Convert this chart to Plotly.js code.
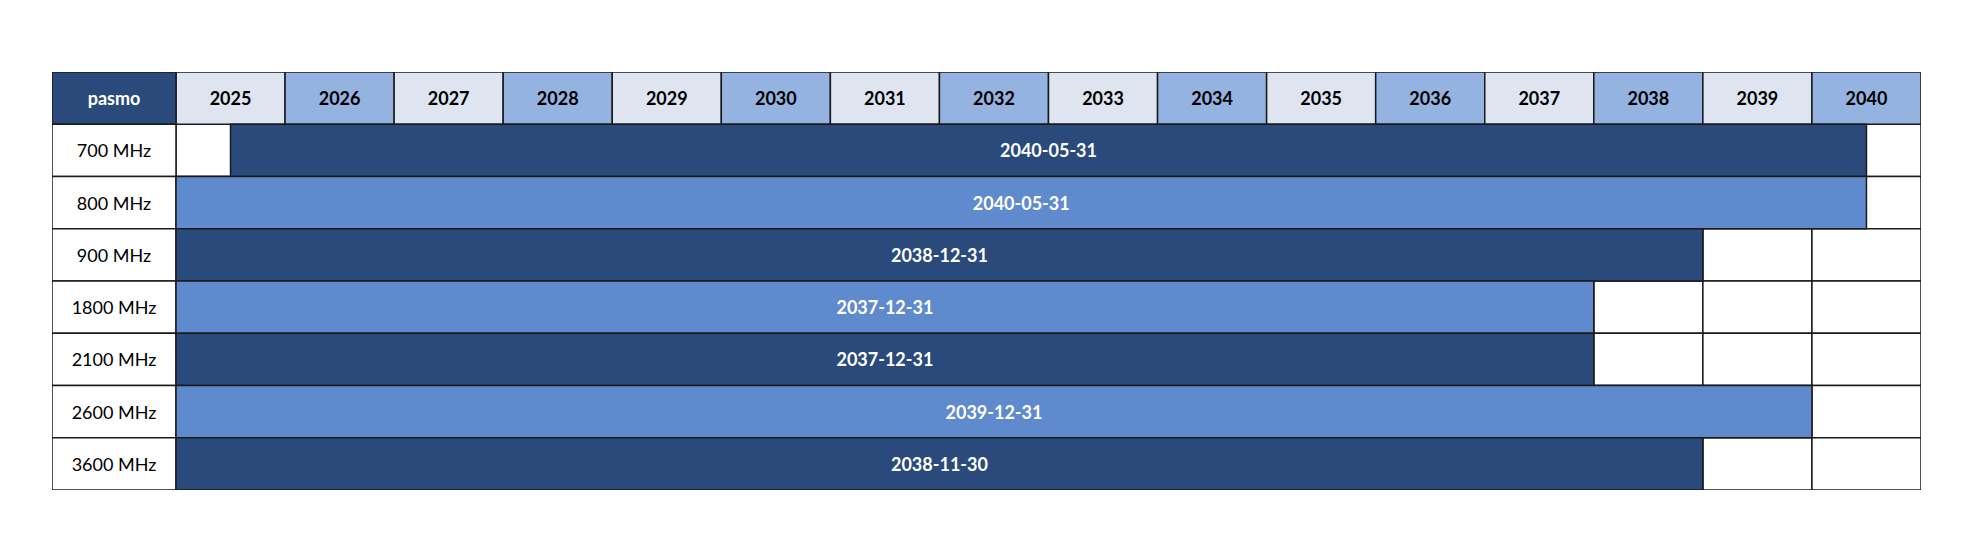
<!DOCTYPE html>
<html>
<head>
<meta charset="utf-8">
<script src="https://cdn.plot.ly/plotly-3.0.1.min.js"></script>
<style>
  html, body { margin: 0; padding: 0; background: #ffffff; }
  #chart { width: 1980px; height: 549px; }
</style>
</head>
<body>
<div id="chart"></div>
<script>
// Licence periods per frequency band
const headerLabel = 'pasmo';
const years = [2025, 2026, 2027, 2028, 2029, 2030, 2031, 2032, 2033, 2034, 2035, 2036, 2037, 2038, 2039, 2040];
const bands = ['700 MHz', '800 MHz', '900 MHz', '1800 MHz', '2100 MHz', '2600 MHz', '3600 MHz'];
const startDates = ['2025-07-01', '2025-01-01', '2025-01-01', '2025-01-01', '2025-01-01', '2025-01-01', '2025-01-01'];
const endDates = ['2040-05-31', '2040-05-31', '2038-12-31', '2037-12-31', '2037-12-31', '2039-12-31', '2038-11-30'];

// Styling
const NAVY = '#2B4A7C';
const LIGHT = '#5F8BCE';
const HEAD_A = '#DEE5F0';
const HEAD_B = '#95B3E0';
const LINE = { color: '#1a1a1a', width: 1.5 };
const FONT = 'Lato, "Open Sans", sans-serif';
const FONT_SIZE = 18;
const labelColWidth = 1.137;           // width of the band-name column, in year units
const x0 = years[0] - labelColWidth;
const xEnd = years[years.length - 1] + 1;

// Date -> fractional year, snapped to the table's half-year grid
function isLeap(y) { return (y % 4 === 0 && y % 100 !== 0) || y % 400 === 0; }
function fracYear(str, inclusiveEnd) {
  const [y, m, d] = str.split('-').map(Number);
  const t0 = Date.UTC(y, 0, 1);
  const t = Date.UTC(y, m - 1, d) + (inclusiveEnd ? 86400000 : 0);
  const days = isLeap(y) ? 366 : 365;
  const v = y + (t - t0) / 86400000 / days;
  return Math.round(v * 2) / 2;
}

const rows = bands.map((_, i) => i + 1);
const starts = startDates.map(s => fracYear(s, false));
const ends = endDates.map(s => fracYear(s, true));

const traces = [];

// Empty white grid cells behind the bars
const gy = [], gb = [];
bands.forEach((_, i) => years.forEach(yr => { gy.push(i + 1); gb.push(yr); }));
traces.push({
  type: 'bar', orientation: 'h',
  y: gy, base: gb, x: gy.map(() => 1), width: 1,
  marker: { color: '#ffffff', line: LINE },
  hoverinfo: 'skip'
});

// Header: year cells
traces.push({
  type: 'bar', orientation: 'h',
  y: years.map(() => 0), base: years, x: years.map(() => 1), width: 1,
  marker: { color: years.map((_, i) => i % 2 === 0 ? HEAD_A : HEAD_B), line: LINE },
  text: years.map(String), textposition: 'inside', insidetextanchor: 'middle', textangle: 0,
  textfont: { family: FONT, size: FONT_SIZE, color: '#000000', weight: 'bold' },
  hoverinfo: 'skip'
});

// Header: label cell
traces.push({
  type: 'bar', orientation: 'h',
  y: [0], base: [x0], x: [labelColWidth], width: 1,
  marker: { color: NAVY, line: LINE },
  text: [headerLabel], textposition: 'inside', insidetextanchor: 'middle', textangle: 0,
  textfont: { family: FONT, size: FONT_SIZE, color: '#ffffff', weight: 'bold' },
  hoverinfo: 'skip'
});

// Band name cells
traces.push({
  type: 'bar', orientation: 'h',
  y: rows, base: rows.map(() => x0), x: rows.map(() => labelColWidth), width: 1,
  marker: { color: '#ffffff', line: LINE },
  text: bands, textposition: 'inside', insidetextanchor: 'middle', textangle: 0,
  textfont: { family: FONT, size: FONT_SIZE, color: '#000000' },
  hoverinfo: 'skip'
});

// Licence bars
traces.push({
  type: 'bar', orientation: 'h',
  y: rows, base: starts, x: ends.map((e, i) => e - starts[i]), width: 1,
  marker: { color: rows.map((_, i) => i % 2 === 0 ? NAVY : LIGHT), line: LINE },
  text: endDates, textposition: 'inside', insidetextanchor: 'middle', textangle: 0,
  textfont: { family: FONT, size: FONT_SIZE, color: '#ffffff', weight: 'bold' },
  hoverinfo: 'skip'
});

const layout = {
  width: 1980, height: 549,
  margin: { l: 52, r: 59, t: 72, b: 59, pad: 0 },
  paper_bgcolor: '#ffffff', plot_bgcolor: '#ffffff',
  barmode: 'overlay',
  showlegend: false,
  xaxis: { range: [x0, xEnd], visible: false, fixedrange: true },
  yaxis: { range: [bands.length + 0.5, -0.5], visible: false, fixedrange: true },
  uniformtext: { mode: false }
};

Plotly.newPlot('chart', traces, layout, { staticPlot: true, displayModeBar: false });
</script>
</body>
</html>
